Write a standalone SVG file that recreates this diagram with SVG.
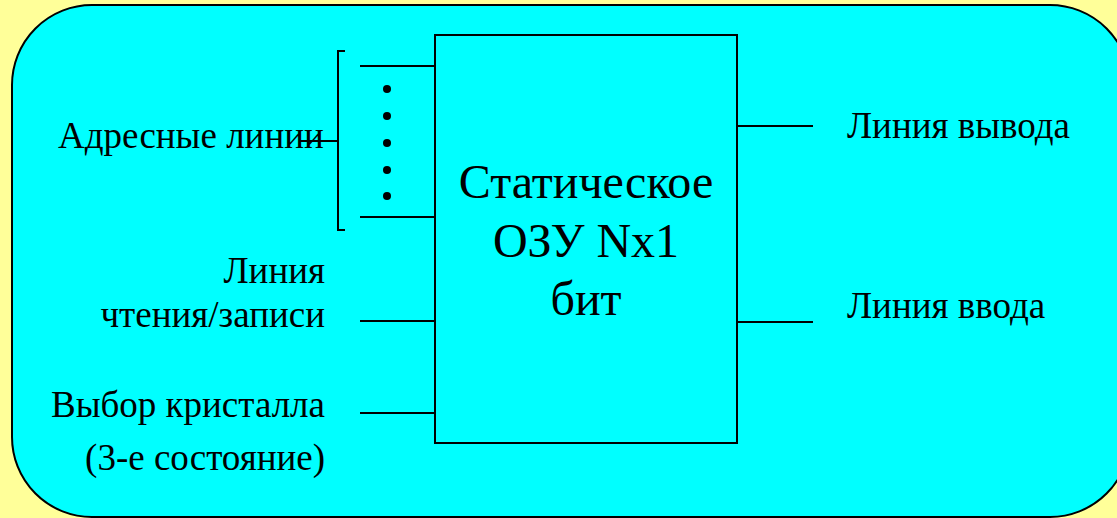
<svg xmlns="http://www.w3.org/2000/svg" width="1117" height="518" viewBox="0 0 1117 518">
<style>
.ln{stroke:#000;stroke-width:2;fill:none}
.t{font-family:"Liberation Serif","Times New Roman",Times,"DejaVu Serif",serif;font-size:37px;fill:#000}
.big{font-family:"Liberation Serif","Times New Roman",Times,"DejaVu Serif",serif;font-size:48px;fill:#000;text-anchor:middle}
.r{text-anchor:end}
</style>
<rect x="0" y="0" width="1117" height="518" fill="#FFFF99"/>
<rect id="panel" x="12" y="5" width="1118" height="512" rx="80" ry="80" fill="#00FFFF" stroke="#000" stroke-width="2"/>
<g id="connectors">
<line class="ln" x1="360" y1="66" x2="435" y2="66"/>
<line class="ln" x1="360" y1="217" x2="435" y2="217"/>
<path class="ln" d="M345 51 H338 V230 H345"/>
<line class="ln" x1="300" y1="141" x2="338" y2="141"/>
<line class="ln" x1="360" y1="321" x2="435" y2="321"/>
<line class="ln" x1="360" y1="413" x2="435" y2="413"/>
<line class="ln" x1="737" y1="126" x2="813" y2="126"/>
<line class="ln" x1="737" y1="322" x2="813" y2="322"/>
<g fill="#000">
<circle cx="387" cy="89" r="4"/>
<circle cx="387" cy="116" r="4"/>
<circle cx="387" cy="143" r="4"/>
<circle cx="387" cy="170" r="4"/>
<circle cx="387" cy="196" r="4"/>
</g>
</g>
<g id="sram">
<rect x="435" y="35" width="302" height="408" fill="none" stroke="#000" stroke-width="2"/>
<text class="big" x="586" y="198">Статическое</text>
<text class="big" x="586" y="257">ОЗУ Nx1</text>
<text class="big" x="586" y="315">бит</text>
</g>
<g id="addr"><text class="t" x="58" y="148">Адресные линии</text></g>
<g id="rw"><text class="t r" x="325" y="283">Линия</text><text class="t r" x="325" y="327">чтения/записи</text></g>
<g id="cs"><text class="t r" x="325" y="417">Выбор кристалла</text><text class="t r" x="325" y="470">(3-е состояние)</text></g>
<g id="out"><text class="t" x="847" y="138">Линия вывода</text></g>
<g id="in"><text class="t" x="847" y="318">Линия ввода</text></g>
</svg>
